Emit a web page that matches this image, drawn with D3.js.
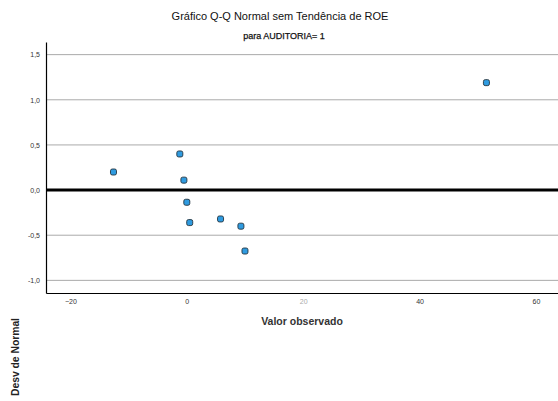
<!DOCTYPE html>
<html><head><meta charset="utf-8">
<script src="https://cdn.jsdelivr.net/npm/d3@7"></script>
<style>body{margin:0;background:#fff}svg{display:block}text{font-family:"Liberation Sans",Arial,sans-serif}</style>
</head><body>
<script>
const observed = [-12.6, -1.2, -0.5, 0.0, 0.5, 5.8, 9.3, 10.0, 51.5];
const deviation = [0.20, 0.40, 0.11, -0.135, -0.36, -0.32, -0.40, -0.675, 1.19];
const xTicks = [-20, 0, 20, 40, 60];
const yTicks = [-1.0, -0.5, 0.0, 0.5, 1.0, 1.5];

const W = 558, H = 401;
const L = 46, R = 558, T = 42, B = 293;
const svg = d3.select("body").append("svg").attr("width", W).attr("height", H);
const x = d3.scaleLinear().domain([-24.2, 63.8]).range([L, R]);
const y = d3.scaleLinear().domain([-1.14, 1.64]).range([B, T]);
const fmt = d => d.toFixed(1).replace(".", ",");

svg.append("text").attr("x", 280).attr("y", 20).attr("text-anchor", "middle")
  .attr("font-size", 11).attr("fill", "#111").text("Gráfico Q-Q Normal sem Tendência de ROE");
svg.append("text").attr("x", 284).attr("y", 39).attr("text-anchor", "middle")
  .attr("font-size", 9).attr("fill", "#111").attr("stroke", "#111").attr("stroke-width", 0.25)
  .text("para AUDITORIA= 1");

// gridlines
svg.append("g").selectAll("line").data(yTicks.filter(d => d !== 0)).join("line")
  .attr("x1", L).attr("x2", R).attr("y1", d => y(d)).attr("y2", d => y(d))
  .attr("stroke", "#aaa").attr("stroke-width", 1);

// y axis
const ya = svg.append("g").attr("transform", `translate(${L},0)`)
  .call(d3.axisLeft(y).tickValues(yTicks).tickFormat(fmt).tickSize(0).tickPadding(6));
ya.select(".domain").attr("stroke", "#000").attr("stroke-width", 1.2);
ya.selectAll("text").attr("font-size", 7).attr("fill", "#333").attr("font-family", "Liberation Sans, Arial, sans-serif");

// x axis
const xa = svg.append("g").attr("transform", `translate(0,${B})`)
  .call(d3.axisBottom(x).tickValues(xTicks).tickFormat(d3.format("d")).tickSize(0).tickPadding(6));
xa.select(".domain").attr("stroke", "#000").attr("stroke-width", 1.2);
xa.selectAll("text").attr("font-size", 7).attr("fill", "#333").attr("font-family", "Liberation Sans, Arial, sans-serif");
xa.selectAll("text").filter(d => d === 20).attr("fill", "#aaa");

// zero reference line
svg.append("line").attr("x1", L).attr("x2", R).attr("y1", y(0)).attr("y2", y(0))
  .attr("stroke", "#000").attr("stroke-width", 3);

// points
svg.append("g").selectAll("rect").data(observed.map((d, i) => [d, deviation[i]])).join("rect")
  .attr("x", d => x(d[0]) - 3).attr("y", d => y(d[1]) - 3).attr("width", 6).attr("height", 6)
  .attr("rx", 1.8)
  .attr("fill", "#2f9be0").attr("stroke", "#24343f").attr("stroke-width", 0.9);

svg.append("text").attr("x", 302).attr("y", 325).attr("text-anchor", "middle")
  .attr("font-size", 10.5).attr("font-weight", "bold").attr("fill", "#333").text("Valor observado");
svg.append("text").attr("transform", "translate(18.5,357) rotate(-90)").attr("text-anchor", "middle")
  .attr("font-size", 11).attr("font-weight", "bold").attr("fill", "#222")
  .attr("textLength", 78).attr("lengthAdjust", "spacingAndGlyphs").text("Desv de Normal");
</script>
</body></html>
